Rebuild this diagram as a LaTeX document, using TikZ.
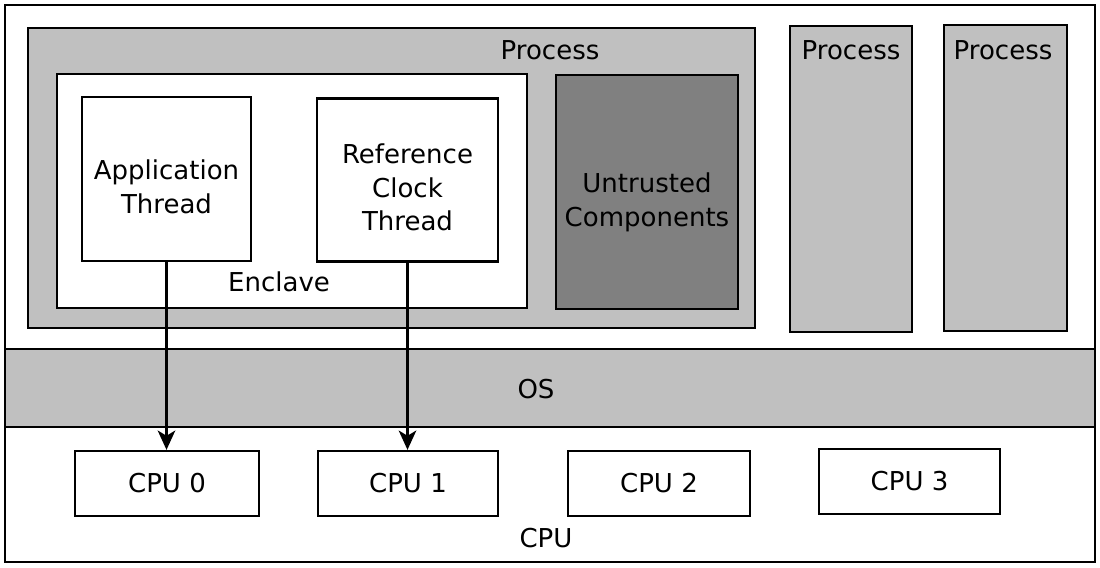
\documentclass[tikz,border=0pt]{standalone}
\usepackage{fontspec}
\setmainfont{DejaVu Sans}
\usetikzlibrary{arrows.meta}
\definecolor{procgray}{RGB}{192, 192, 192}
\definecolor{untrustgray}{RGB}{128, 128, 128}

\begin{document}
\begin{tikzpicture}[
    font=\fontsize{14.8}{19.2}\selectfont,
    box/.style={draw, line width=1.3pt, rectangle, inner sep=0pt, align=center},
    lbl/.style={inner sep=0pt, align=center},
    arrow/.style={line width=1.3pt, -{Stealth[length=11pt, width=10pt, inset=3pt]}}
]
    \useasboundingbox (0,0) rectangle (22,11.34);

    % Machine frame and OS
    \node[box, minimum width=21.8cm, minimum height=11.14cm] (machine) at (11,5.67) {};
    \node[box, fill=procgray, minimum width=21.8cm, minimum height=1.56cm] (os) at (11,3.58) {};
    \node[lbl] (oslbl) at (10.72,3.56) {OS};

    % Main process with enclave
    \node[box, fill=procgray, minimum width=14.54cm, minimum height=6cm] (proc) at (7.83,7.78) {};
    \node[lbl] (proclbl) at (11.0,10.34) {Process};
    \node[box, fill=white, minimum width=9.4cm, minimum height=4.68cm] (enclave) at (5.84,7.52) {};
    \node[lbl] (enclavelbl) at (5.58,5.7) {Enclave};
    \node[box, fill=white, minimum width=3.38cm, minimum height=3.28cm] (app) at (3.33,7.76) {};
    \node[lbl, yshift=-0.16cm] (applbl) at (app.center) {Application\\Thread};
    \node[box, fill=white, minimum width=3.62cm, minimum height=3.26cm] (ref) at (8.15,7.74) {};
    \node[lbl, yshift=-0.15cm] (reflbl) at (ref.center) {Reference\\Clock\\Thread};
    \node[box, fill=untrustgray, minimum width=3.64cm, minimum height=4.68cm] (untrusted) at (12.94,7.5) {};
    \node[lbl, yshift=-0.2cm] (untrustedlbl) at (untrusted.center) {Untrusted\\Components};

    % Other processes
    \node[box, fill=procgray, minimum width=2.44cm, minimum height=6.12cm] (proc2) at (17.02,7.76) {};
    \node[lbl] (proc2lbl) at (17.02,10.34) {Process};
    \node[box, fill=procgray, minimum width=2.46cm, minimum height=6.12cm] (proc3) at (20.11,7.78) {};
    \node[lbl] (proc3lbl) at (20.06,10.34) {Process};

    % CPUs
    \node[box, minimum width=3.68cm, minimum height=1.3cm] (cpu0) at (3.34,1.67) {CPU 0};
    \node[box, minimum width=3.6cm, minimum height=1.3cm] (cpu1) at (8.16,1.67) {CPU 1};
    \node[box, minimum width=3.64cm, minimum height=1.3cm] (cpu2) at (13.18,1.67) {CPU 2};
    \node[box, minimum width=3.62cm, minimum height=1.3cm] (cpu3) at (18.19,1.71) {CPU 3};
    \node[lbl] (cpulbl) at (10.92,0.58) {CPU};

    % Thread pinning
    \draw[arrow] (app.south) -- (app.south |- cpu0.north);
    \draw[arrow] (ref.south) -- (ref.south |- cpu1.north);
\end{tikzpicture}
\end{document}
